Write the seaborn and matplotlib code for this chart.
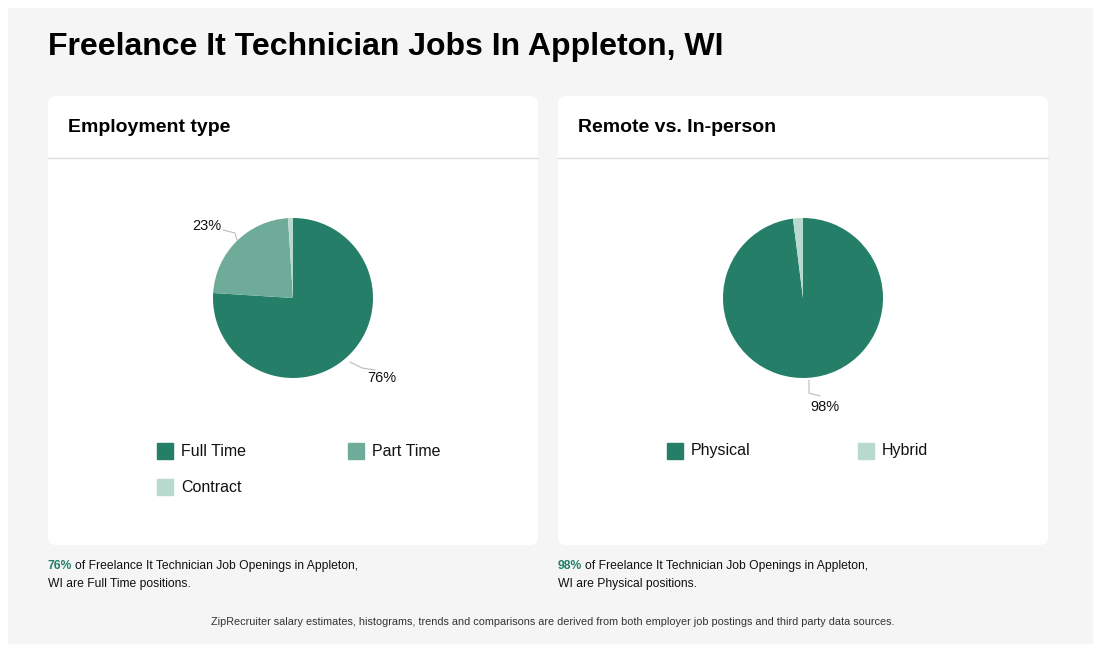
import matplotlib
matplotlib.use("Agg")
import matplotlib.pyplot as plt
from matplotlib.patches import FancyBboxPatch, Rectangle
import seaborn as sns
import numpy as np

sns.set_theme(style="white")
plt.rcParams['font.family'] = ['Liberation Sans', 'DejaVu Sans']
plt.rcParams['text.color'] = '#111111'

title = "Freelance It Technician Jobs In Appleton, WI"
emp_labels = ["Full Time", "Part Time", "Contract"]
emp_values = [76, 23, 1]
emp_colors = ["#257f68", "#6fab99", "#b7d9ce"]
rem_labels = ["Physical", "Hybrid"]
rem_values = [98, 2]
rem_colors = ["#257f68", "#b7d9ce"]

W, H = 1100, 651
fig = plt.figure(figsize=(W/100, H/100), dpi=100)
fig.patch.set_facecolor("white")

def rect(x, y, w, h):
    return [x/W, 1-(y+h)/H, w/W, h/H]

bg = fig.add_axes([0, 0, 1, 1]); bg.set_xlim(0, W); bg.set_ylim(H, 0); bg.axis("off")
bg.add_patch(Rectangle((8, 8), W-16, H-16, color="#f5f5f5"))
for x0 in (48, 558):
    bg.add_patch(FancyBboxPatch((x0, 96), 490, 449, boxstyle="round,pad=0,rounding_size=8",
                                fc="white", ec="none"))
    bg.plot([x0, x0+490], [158, 158], color="#dddddd", lw=1)
bg.text(48, 47, title, fontsize=23, fontweight="bold", va="center", color="black")
bg.text(68, 127, "Employment type", fontsize=14, fontweight="bold", va="center", color="black")
bg.text(578, 127, "Remote vs. In-person", fontsize=14, fontweight="bold", va="center", color="black")

def pie(cx, values, colors):
    ax = fig.add_axes(rect(cx-80, 218, 160, 160))
    ax.pie(values, colors=colors, startangle=90, counterclock=False,
           wedgeprops=dict(linewidth=0), radius=1)
    ax.set_xlim(-1, 1); ax.set_ylim(-1, 1)
    ax.set_aspect("equal")
    ax.axis("off")
    return ax

pie(293, emp_values, emp_colors)
pie(803, rem_values, rem_colors)

bg.plot([223, 235, 237], [230, 233, 240], color="#bbbbbb", lw=0.8)
bg.text(207, 226, "23%", fontsize=10.5, ha="center", va="center")
bg.plot([350, 362, 375], [362, 368, 370], color="#bbbbbb", lw=0.8)
bg.text(382, 378, "76%", fontsize=10.5, ha="center", va="center")
bg.plot([809, 809, 820], [380, 393, 396], color="#bbbbbb", lw=0.8)
bg.text(825, 407, "98%", fontsize=10.5, ha="center", va="center")

def legend_item(x, y, color, label):
    bg.add_patch(Rectangle((x, y-8), 16, 16, color=color))
    bg.text(x+24, y, label, fontsize=11.5, va="center")

legend_item(157, 451, emp_colors[0], emp_labels[0])
legend_item(348, 451, emp_colors[1], emp_labels[1])
legend_item(157, 487, emp_colors[2], emp_labels[2])
legend_item(667, 451, rem_colors[0], rem_labels[0])
legend_item(858, 451, rem_colors[1], rem_labels[1])

def caption(x, pct, rest1, rest2):
    t = bg.text(x, 566, f"{pct}%", fontsize=8.7, fontweight="bold", color="#257f68", va="center")
    fig.canvas.draw()
    bb = t.get_window_extent()
    bg.text(x + bb.width + 3, 566, rest1, fontsize=8.7, va="center")
    bg.text(x, 584, rest2, fontsize=8.7, va="center")

caption(48, emp_values[0], "of Freelance It Technician Job Openings in Appleton,", "WI are Full Time positions.")
caption(558, rem_values[0], "of Freelance It Technician Job Openings in Appleton,", "WI are Physical positions.")
bg.text(553, 622, "ZipRecruiter salary estimates, histograms, trends and comparisons are derived from both employer job postings and third party data sources.",
        fontsize=7.8, ha="center", va="center", color="#333333")

fig.savefig("out.png", dpi=100, facecolor="white")
